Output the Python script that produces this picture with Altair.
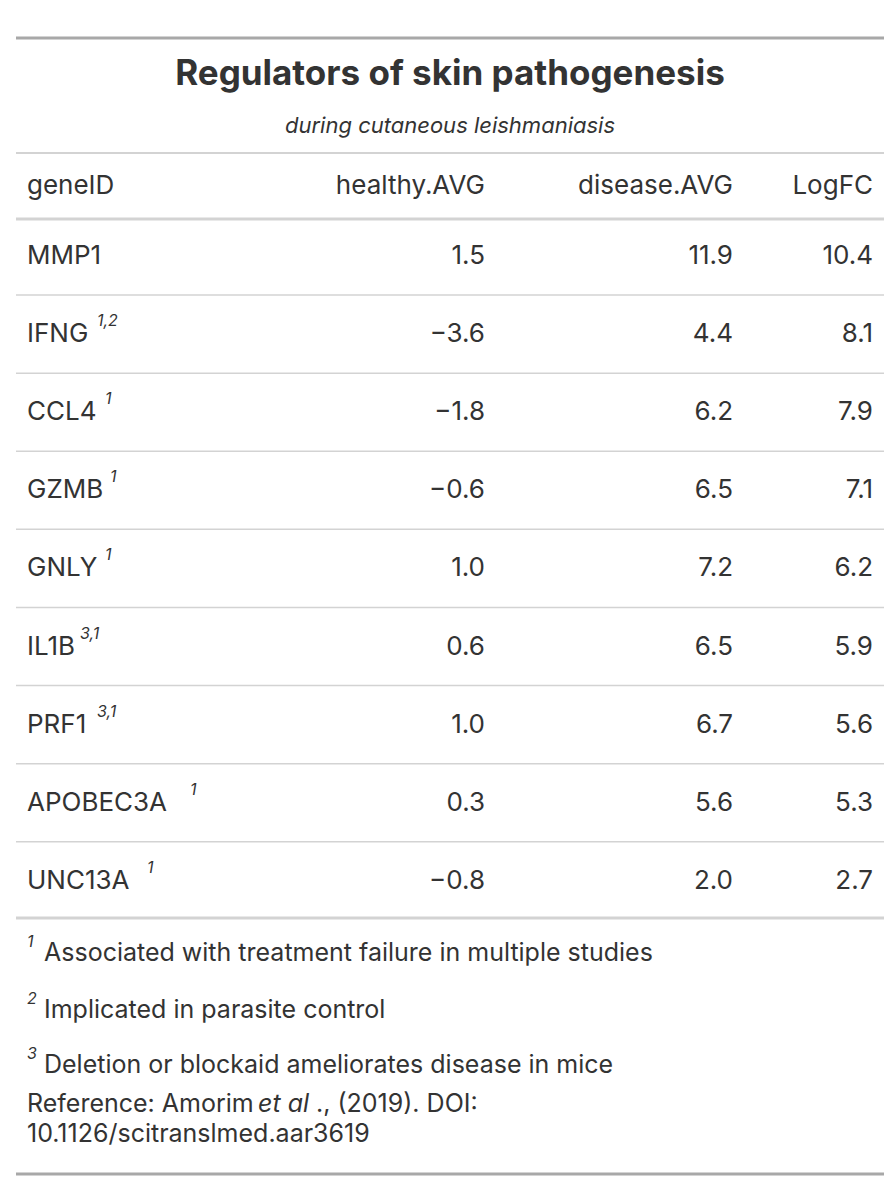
import altair as alt
import pandas as pd

genes = ["MMP1", "IFNG", "CCL4", "GZMB", "GNLY", "IL1B", "PRF1", "APOBEC3A", "UNC13A"]
marks = ["", "1,2", "1", "1", "1", "3,1", "3,1", "1", "1"]
healthy = ["1.5", "\u22123.6", "\u22121.8", "\u22120.6", "1.0", "0.6", "1.0", "0.3", "\u22120.8"]
disease = ["11.9", "4.4", "6.2", "6.5", "7.2", "6.5", "6.7", "5.6", "2.0"]
logfc = ["10.4", "8.1", "7.9", "7.1", "6.2", "5.9", "5.6", "5.3", "2.7"]
headers = ["geneID", "healthy.AVG", "disease.AVG", "LogFC"]
footnotes = ["Associated with treatment failure in multiple studies",
             "Implicated in parasite control",
             "Deletion or blockaid ameliorates disease in mice"]
title = "Regulators of skin pathogenesis"
subtitle = "during cutaneous leishmaniasis"

# layout (page pixels)
W, H = 880, 1180
left, right = 16, 884
col_x = [27, 485, 733, 873]
row_y0, row_h = 256, 78.1
sup_x = [0, 97, 105, 110, 105, 80, 97, 190, 147]
FONT = "Inter"
INK = "#333333"
BODY = 26

xs = alt.X("x:Q", scale=alt.Scale(domain=[8, 8 + W]), axis=None)
ys = alt.Y("y:Q", scale=alt.Scale(domain=[8, 8 + H], reverse=True), axis=None)

rules = [(38, "#A8A8A8", 3), (153, "#D3D3D3", 2), (219, "#D3D3D3", 3),
         (918, "#D3D3D3", 3), (1174, "#A8A8A8", 3)]
for i in range(1, len(genes)):
    rules.append((row_y0 - row_h / 2 + i * row_h, "#D3D3D3", 1.5))
rule_df = pd.DataFrame([{"y": y, "x": left, "x2": right, "c": c, "w": w} for y, c, w in rules])
rule_layer = alt.Chart(rule_df).mark_rule().encode(
    x=xs, x2="x2:Q", y=ys,
    color=alt.Color("c:N", scale=None),
    strokeWidth=alt.StrokeWidth("w:Q", scale=None))

def text(df, align="left", size=BODY, weight="normal", style="normal"):
    return alt.Chart(pd.DataFrame(df)).mark_text(
        align=align, baseline="middle", font=FONT, fontSize=size,
        fontWeight=weight, fontStyle=style, color=INK
    ).encode(x=xs, y=ys, text="t:N")

layers = [rule_layer]
layers.append(text([{"x": 450, "y": 74, "t": title}], "center", 35, "bold"))
layers.append(text([{"x": 450, "y": 126, "t": subtitle}], "center", 22, style="italic"))
layers.append(text([{"x": col_x[0], "y": 186, "t": headers[0]}]))
layers.append(text([{"x": col_x[i], "y": 186, "t": headers[i]} for i in range(1, 4)], "right"))

gene_rows, num_rows, sup_rows = [], [], []
for i, g in enumerate(genes):
    y = row_y0 + i * row_h
    gene_rows.append({"x": col_x[0], "y": y, "t": g})
    for j, v in enumerate([healthy[i], disease[i], logfc[i]]):
        num_rows.append({"x": col_x[j + 1], "y": y, "t": v})
    if marks[i]:
        sup_rows.append({"x": sup_x[i], "y": y - 13, "t": marks[i]})
layers.append(text(gene_rows))
layers.append(text(num_rows, "right"))
layers.append(text(sup_rows, size=16, style="italic"))

fy = [953, 1010, 1065]
layers.append(text([{"x": 27, "y": y - 11, "t": str(i + 1)} for i, y in enumerate(fy)], size=16, style="italic"))
layers.append(text([{"x": 44, "y": y, "t": f} for y, f in zip(fy, footnotes)], size=25))
layers.append(text([{"x": 27, "y": 1104, "t": "Reference: Amorim "},
                    {"x": 316, "y": 1104, "t": "., (2019). DOI:"},
                    {"x": 27, "y": 1134, "t": "10.1126/scitranslmed.aar3619"}], size=25))
layers.append(text([{"x": 258, "y": 1104, "t": "et al"}], size=25, style="italic"))

chart = alt.layer(*layers).properties(
    width=W, height=H, padding=0, autosize=alt.AutoSizeParams(type="none"),
    background="white"
).configure_view(stroke=None)

chart.save("out.html", embed_options={"renderer": "svg", "actions": False})
